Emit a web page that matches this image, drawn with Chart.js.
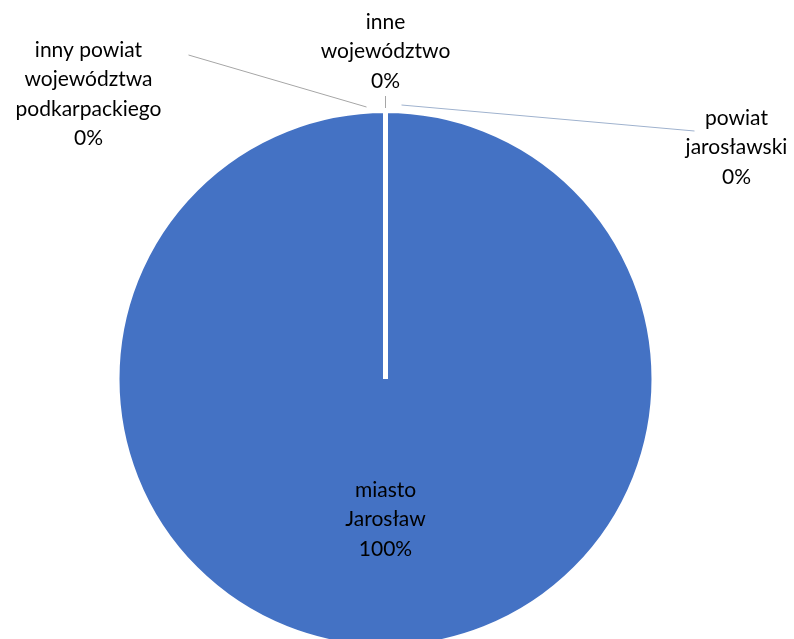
<!DOCTYPE html>
<html>
<head>
<meta charset="utf-8">
<script src="https://cdn.jsdelivr.net/npm/chart.js@4/dist/chart.umd.min.js"></script>
<style>
html,body{margin:0;padding:0;background:#fff;}
canvas{display:block;}
</style>
</head>
<body>
<canvas id="c" width="794" height="639"></canvas>
<script>
const categories = ['miasto Jarosław', 'powiat jarosławski', 'inne województwo', 'inny powiat województwa podkarpackiego'];
const labelLines = [['miasto', 'Jarosław'], ['powiat', 'jarosławski'], ['inne', 'województwo'], ['inny powiat', 'województwa', 'podkarpackiego']];
const values = [100, 0, 0, 0];
const colors = ['#4472C4', '#ED7D31', '#A5A5A5', '#FFC000'];

const FONT = '21px Lato, "Open Sans", sans-serif';
const LINE_H = 29.5;

const labelPlugin = {
  id: 'excelLabels',
  afterDatasetsDraw(chart) {
    const ctx = chart.ctx;
    const meta = chart.getDatasetMeta(0);
    const arc = meta.data[0];
    const cx = arc.x, cy = arc.y;
    const total = values.reduce((a, b) => a + b, 0);
    const pct = v => Math.round(v / total * 100) + '%';
    ctx.save();
    ctx.font = FONT;
    ctx.fillStyle = '#000';
    ctx.textAlign = 'center';
    ctx.textBaseline = 'middle';
    function block(lines, x, yTop) {
      lines.forEach((t, i) => ctx.fillText(t, x, yTop + i * LINE_H));
    }
    // inner label for main slice
    block([...labelLines[0], pct(values[0])], cx, cy + 111);
    // outer labels for zero slices
    const outer = [
      {i: 1, x: cx + 351, y: 118, l: [[cx + 309, 131], [cx + 16, 105]], c: '#9FB2CE'},
      {i: 2, x: cx, y: 22, l: [[cx, 96], [cx, 108]], c: '#A6A6A6'},
      {i: 3, x: cx - 297, y: 50, l: [[cx - 197, 55], [cx - 19, 107]], c: '#A6A6A6'}
    ];
    outer.forEach(o => {
      ctx.strokeStyle = o.c;
      ctx.lineWidth = 1;
      ctx.beginPath();
      ctx.moveTo(o.l[0][0], o.l[0][1]);
      ctx.lineTo(o.l[1][0], o.l[1][1]);
      ctx.stroke();
      block([...labelLines[o.i], pct(values[o.i])], o.x, o.y);
    });
    ctx.restore();
  }
};

new Chart(document.getElementById('c'), {
  type: 'pie',
  data: {
    labels: categories,
    datasets: [{
      data: values,
      backgroundColor: colors,
      borderColor: '#ffffff',
      borderWidth: 5,
      hoverOffset: 0
    }]
  },
  options: {
    responsive: false,
    animation: false,
    devicePixelRatio: 1,
    radius: 268.5,
    layout: {padding: {top: 119, bottom: 0, left: 0, right: 23}},
    plugins: {legend: {display: false}, tooltip: {enabled: false}}
  },
  plugins: [labelPlugin]
});
</script>
</body>
</html>
